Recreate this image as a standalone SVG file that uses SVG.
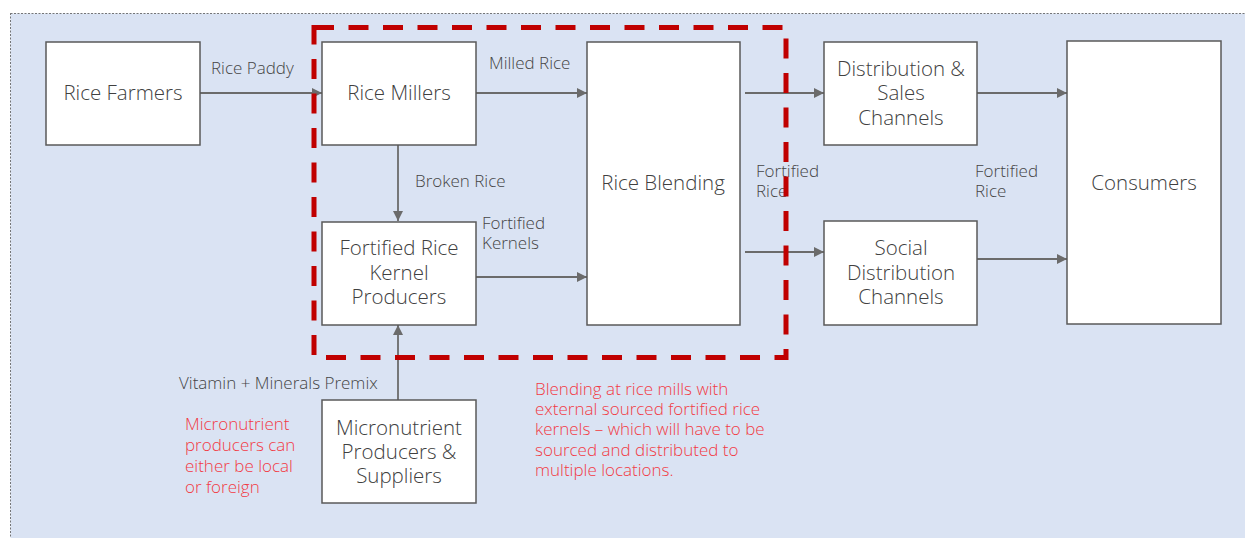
<svg xmlns="http://www.w3.org/2000/svg" width="1245" height="538" viewBox="0 0 1245 538">
<defs>
<marker id="ah" viewBox="0 0 10 10" refX="10" refY="5" markerWidth="10" markerHeight="10" markerUnits="userSpaceOnUse" orient="auto">
<path d="M0,0 L10,5 L0,10 z" fill="#6b6b6b"/>
</marker>
<style>
.box{fill:#ffffff;stroke:#5a5a5a;stroke-width:1.5}
.nt{font-family:"Open Sans","Liberation Sans",sans-serif;font-weight:300;font-size:20.5px;fill:#404040;text-anchor:middle}
.lb{font-family:"Open Sans","Liberation Sans",sans-serif;font-weight:300;font-size:17px;fill:#454545}
.rd{font-family:"Open Sans","Liberation Sans",sans-serif;font-weight:300;font-size:17px;fill:#f23a44}
.cn{stroke:#6b6b6b;stroke-width:1.8;fill:none;marker-end:url(#ah)}
</style>
</defs>
<rect x="10.5" y="13.5" width="1240" height="530" fill="#dae3f3" stroke="#555" stroke-width="0.8" stroke-dasharray="2,1.5"/>
<g id="connectors">
<line class="cn" x1="200" y1="93" x2="322" y2="93"/>
<line class="cn" x1="476" y1="93" x2="587" y2="93"/>
<line class="cn" x1="745" y1="93" x2="824" y2="93"/>
<line class="cn" x1="745" y1="252" x2="824" y2="252"/>
<line class="cn" x1="977" y1="93" x2="1067" y2="93"/>
<line class="cn" x1="977" y1="259" x2="1067" y2="259"/>
<line class="cn" x1="398" y1="145" x2="398" y2="221"/>
<line class="cn" x1="476" y1="277" x2="587" y2="277"/>
<line class="cn" x1="398" y1="400" x2="398" y2="325"/>
</g>
<g id="labels">
<text class="lb" x="211" y="74">Rice Paddy</text>
<text class="lb" x="489" y="69">Milled Rice</text>
<text class="lb" x="415" y="187">Broken Rice</text>
<text class="lb" x="482" y="229">Fortified</text>
<text class="lb" x="482" y="249">Kernels</text>
<text class="lb" x="756" y="177">Fortified</text>
<text class="lb" x="756" y="197">Rice</text>
<text class="lb" x="975" y="177">Fortified</text>
<text class="lb" x="975" y="197">Rice</text>
<text class="lb" x="179" y="389">Vitamin + Minerals Premix</text>
</g>
<g id="farmers"><rect class="box" x="46" y="42" width="154" height="103"/><text class="nt" x="123" y="100">Rice Farmers</text></g>
<g id="millers"><rect class="box" x="322" y="42" width="154" height="103"/><text class="nt" x="399" y="100">Rice Millers</text></g>
<g id="blending"><rect class="box" x="587" y="42" width="153" height="283"/><text class="nt" x="663" y="190">Rice Blending</text></g>
<g id="distribution"><rect class="box" x="824" y="42" width="153" height="103"/><text class="nt" x="901" y="76">Distribution &amp;</text><text class="nt" x="901" y="100">Sales</text><text class="nt" x="901" y="125">Channels</text></g>
<g id="social"><rect class="box" x="824" y="221" width="153" height="104"/><text class="nt" x="901" y="255">Social</text><text class="nt" x="901" y="280">Distribution</text><text class="nt" x="901" y="304">Channels</text></g>
<g id="consumers"><rect class="box" x="1067" y="41" width="154" height="283"/><text class="nt" x="1144" y="190">Consumers</text></g>
<g id="frk"><rect class="box" x="322" y="222" width="154" height="103"/><text class="nt" x="399" y="255">Fortified Rice</text><text class="nt" x="399" y="280">Kernel</text><text class="nt" x="399" y="304">Producers</text></g>
<g id="micro"><rect class="box" x="322" y="400" width="154" height="103"/><text class="nt" x="399" y="435">Micronutrient</text><text class="nt" x="399" y="459">Producers &amp;</text><text class="nt" x="399" y="483">Suppliers</text></g>
<rect id="scope" x="314" y="27.5" width="472" height="330" fill="none" stroke="#c00000" stroke-width="5" stroke-dasharray="20,14.5"/>
<g id="notes">
<text class="rd" x="185" y="430">Micronutrient</text>
<text class="rd" x="185" y="451">producers can</text>
<text class="rd" x="185" y="472">either be local</text>
<text class="rd" x="185" y="493">or foreign</text>
<text class="rd" x="535" y="395">Blending at rice mills with</text>
<text class="rd" x="535" y="415">external sourced fortified rice</text>
<text class="rd" x="535" y="435">kernels – which will have to be</text>
<text class="rd" x="535" y="456">sourced and distributed to</text>
<text class="rd" x="535" y="476">multiple locations.</text>
</g>
</svg>
